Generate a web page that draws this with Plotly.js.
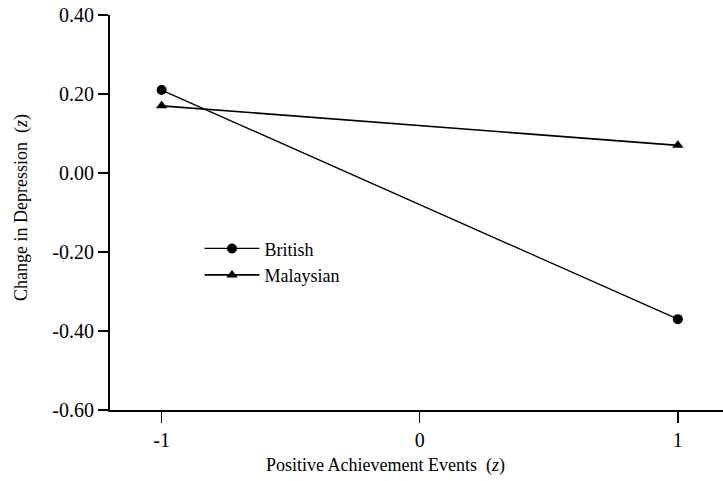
<!DOCTYPE html>
<html>
<head>
<meta charset="utf-8">
<script src="https://cdn.plot.ly/plotly-3.0.1.min.js"></script>
<style>html,body{margin:0;padding:0;background:#fff}#chart{width:723px;height:481px}</style>
</head>
<body>
<div id="chart"></div>
<script>
const xValues = [-1, 1];
const britishValues = [0.21, -0.37];
const malaysianValues = [0.17, 0.07];
const seriesNames = ["British", "Malaysian"];
const yTickValues = [-0.6, -0.4, -0.2, 0.0, 0.2, 0.4];
const yTickText = ["-0.60", "-0.40", "-0.20", "0.00", "0.20", "0.40"];
const xTickValues = [-1, 0, 1];
const xTickText = ["-1", "0", "1"];
const xTitle = "Positive Achievement Events  (<i>z</i>)";
const yTitle = "Change in Depression  (<i>z</i>)";

const font = "'Liberation Serif', 'Times New Roman', serif";
const traces = [
  {x: xValues, y: britishValues, name: seriesNames[0], mode: "lines+markers",
   line: {color: "#000", width: 1.3}, marker: {symbol: "circle", size: 10, color: "#000"}},
  {x: xValues, y: malaysianValues, name: seriesNames[1], mode: "lines+markers",
   line: {color: "#000", width: 1.6}, marker: {symbol: "triangle-up", size: 10, color: "#000"}}
];
const layout = {
  width: 723, height: 481,
  margin: {l: 110, r: 0, t: 15, b: 71},
  paper_bgcolor: "#fff", plot_bgcolor: "#fff",
  font: {family: font, color: "#000", size: 18},
  showlegend: true,
  legend: {x: 0.146, y: 0.455, xanchor: "left", yanchor: "top", bgcolor: "rgba(0,0,0,0)",
           font: {family: font, size: 18, color: "#000"}, tracegroupgap: 0, itemwidth: 55},
  xaxis: {range: [-1.2, 1.175], tickvals: xTickValues, ticktext: xTickText,
          showgrid: false, zeroline: false, showline: true, linecolor: "#000", linewidth: 1.5,
          ticks: "outside", ticklen: 11, tickwidth: 1.5, tickcolor: "#000",
          tickfont: {family: font, size: 20}, fixedrange: true},
  yaxis: {range: [-0.6, 0.4], tickvals: yTickValues, ticktext: yTickText,
          showgrid: false, zeroline: false, showline: true, linecolor: "#000", linewidth: 2,
          ticks: "outside", ticklen: 10, tickwidth: 1.5, tickcolor: "#000",
          tickfont: {family: font, size: 20}, fixedrange: true},
  annotations: [
    {text: xTitle, xref: "paper", yref: "paper", x: (385 - 110) / 613, y: -0.14,
     xanchor: "center", yanchor: "middle", showarrow: false,
     font: {family: font, size: 18, color: "#000"}},
    {text: yTitle, xref: "paper", yref: "paper", x: (21 - 110) / 613, y: (410 - 208) / 395,
     xanchor: "center", yanchor: "middle", textangle: -90, showarrow: false,
     font: {family: font, size: 18, color: "#000"}}
  ]
};
Plotly.newPlot("chart", traces, layout, {displayModeBar: false, staticPlot: true});
</script>
</body>
</html>
